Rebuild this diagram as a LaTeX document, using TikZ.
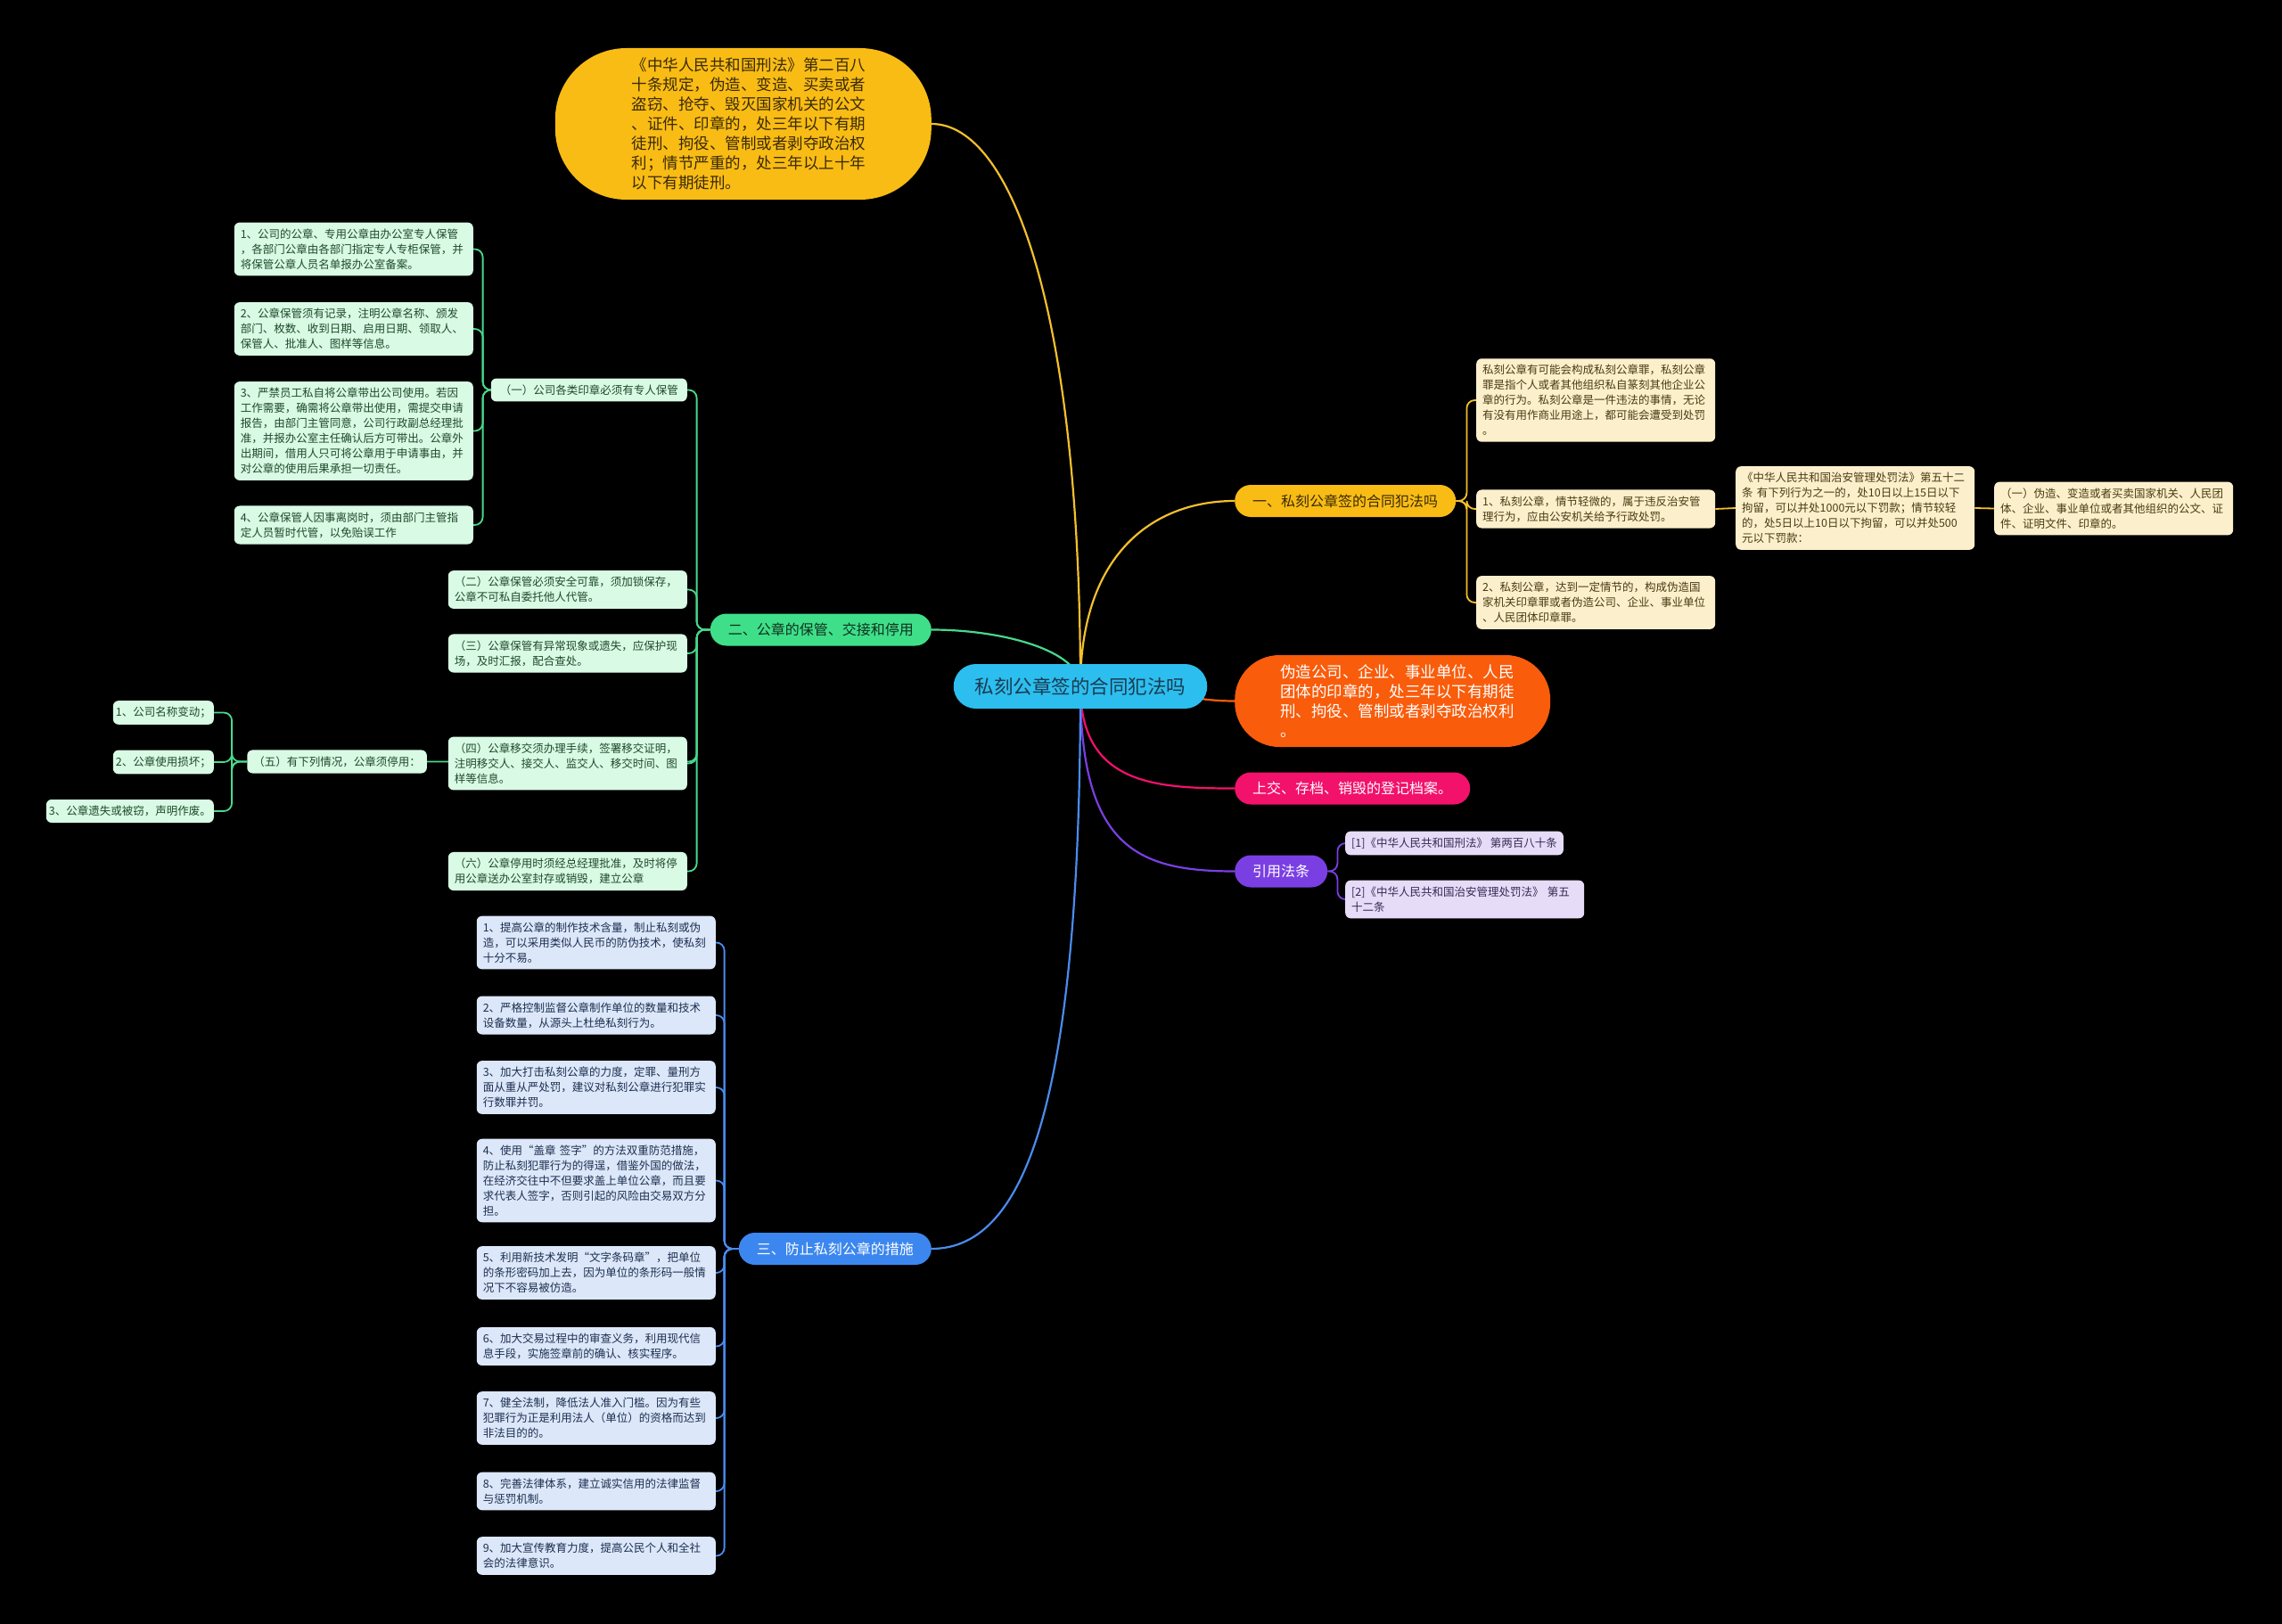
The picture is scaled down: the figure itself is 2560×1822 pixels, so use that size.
\documentclass[tikz,border=0pt]{standalone}
\usepackage{fontspec}
\setmainfont{Noto Sans CJK SC}
\usepackage{tikz}
\usetikzlibrary{backgrounds}
\definecolor{canvas}{HTML}{000000}
\definecolor{amber}{HTML}{F9BC15}
\definecolor{amberink}{HTML}{3A2A05}
\definecolor{amberline}{HTML}{F5C02C}
\definecolor{cream}{HTML}{FCF0CC}
\definecolor{creamink}{HTML}{4A3A12}
\definecolor{rootcyan}{HTML}{2CBEEF}
\definecolor{rootink}{HTML}{1B3B50}
\definecolor{flame}{HTML}{F95C0B}
\definecolor{rose}{HTML}{F2116B}
\definecolor{grape}{HTML}{7A3FE2}
\definecolor{lilac}{HTML}{E6DCF8}
\definecolor{lilacink}{HTML}{372A52}
\definecolor{leafgreen}{HTML}{3FDF8A}
\definecolor{greenink}{HTML}{10301C}
\definecolor{greenline}{HTML}{48D98C}
\definecolor{mint}{HTML}{D9FAE4}
\definecolor{mintink}{HTML}{1E4A2C}
\definecolor{skyblue}{HTML}{3C87EF}
\definecolor{blueline}{HTML}{4A8CEF}
\definecolor{ice}{HTML}{DCE7FA}
\definecolor{iceink}{HTML}{1D2F4E}
\newcommand{\leaffont}{\fontsize{12.5pt}{17pt}\selectfont}
\newcommand{\branchfont}{\fontsize{16pt}{20pt}\selectfont}
\newcommand{\bubblefont}{\fontsize{17.5pt}{22pt}\selectfont}
\newcommand{\rootfont}{\fontsize{21.5pt}{26pt}\selectfont}
\tikzset{
  link/.style={line width=2.2pt},
  fan/.style={line width=1.8pt,rounded corners=9pt},
  leaf/.style={rounded corners=6pt,inner xsep=7pt,inner ysep=7pt,font=\leaffont,align=left},
  wideleaf/.style={leaf,text width=254pt},
  pill/.style={rounded corners=18pt,inner xsep=20pt,minimum height=36pt,font=\branchfont}
}

\begin{document}
\begin{tikzpicture}[x=1pt,y=-1pt]
% root
\node[fill=rootcyan,text=rootink,font=\rootfont,rounded corners=25pt,inner xsep=24pt,minimum height=50pt] (root) at (1212,770) {私刻公章签的合同犯法吗};

% top bubble
\node[fill=amber,text=amberink,font=\bubblefont,text width=250pt,align=left,inner xsep=86pt,minimum height=170pt,rounded corners=80pt,anchor=east] (penal) at (1045,139) {《中华人民共和国刑法》第二百八\\十条规定，伪造、变造、买卖或者\\盗窃、抢夺、毁灭国家机关的公文\\、证件、印章的，处三年以下有期\\徒刑、拘役、管制或者剥夺政治权\\利；情节严重的，处三年以上十年\\以下有期徒刑。};

% branch one
\node[pill,fill=amber,text=amberink,anchor=west] (crime) at (1385,562) {一、私刻公章签的合同犯法吗};
\node[wideleaf,fill=cream,text=creamink,anchor=west] (crimea) at (1656,449) {私刻公章有可能会构成私刻公章罪，私刻公章\\罪是指个人或者其他组织私自篆刻其他企业公\\章的行为。私刻公章是一件违法的事情，无论\\有没有用作商业用途上，都可能会遭受到处罚\\。};
\node[wideleaf,fill=cream,text=creamink,anchor=west] (crimeb) at (1656,571) {1、私刻公章，情节轻微的，属于违反治安管\\理行为，应由公安机关给予行政处罚。};
\node[wideleaf,fill=cream,text=creamink,anchor=west] (crimec) at (1656,676) {2、私刻公章，达到一定情节的，构成伪造国\\家机关印章罪或者伪造公司、企业、事业单位\\、人民团体印章罪。};
\node[wideleaf,fill=cream,text=creamink,anchor=west] (police) at (1947,570) {《中华人民共和国治安管理处罚法》第五十二\\条 有下列行为之一的，处10日以上15日以下\\拘留，可以并处1000元以下罚款；情节较轻\\的，处5日以上10日以下拘留，可以并处500\\元以下罚款：};
\node[wideleaf,fill=cream,text=creamink,anchor=west] (policea) at (2237,570.5) {（一）伪造、变造或者买卖国家机关、人民团\\体、企业、事业单位或者其他组织的公文、证\\件、证明文件、印章的。};

% orange, pink, purple
\node[fill=flame,text=white,font=\bubblefont,text width=252pt,align=left,inner xsep=51pt,minimum height=103pt,rounded corners=50pt,anchor=west] (forge) at (1385,786.5) {伪造公司、企业、事业单位、人民\\团体的印章的，处三年以下有期徒\\刑、拘役、管制或者剥夺政治权利\\。};
\node[pill,fill=rose,text=white,anchor=west] (archive) at (1385,884.5) {上交、存档、销毁的登记档案。};
\node[pill,fill=grape,text=white,anchor=west] (cite) at (1385,977.5) {引用法条};
\node[leaf,fill=lilac,text=lilacink,anchor=west] (citea) at (1509,946) {[1]《中华人民共和国刑法》 第两百八十条};
\node[wideleaf,fill=lilac,text=lilacink,anchor=west] (citeb) at (1509,1009) {[2]《中华人民共和国治安管理处罚法》 第五\\十二条};

% branch two
\node[pill,fill=leafgreen,text=greenink,anchor=east] (keep) at (1045,706.5) {二、公章的保管、交接和停用};
\node[leaf,fill=mint,text=mintink,anchor=east,inner xsep=10pt] (keepa) at (771,437.5) {（一）公司各类印章必须有专人保管};
\node[wideleaf,fill=mint,text=mintink,anchor=east] (keepaa) at (531,279.5) {1、公司的公章、专用公章由办公室专人保管\\，各部门公章由各部门指定专人专柜保管，并\\将保管公章人员名单报办公室备案。};
\node[wideleaf,fill=mint,text=mintink,anchor=east] (keepab) at (531,369) {2、公章保管须有记录，注明公章名称、颁发\\部门、枚数、收到日期、启用日期、领取人、\\保管人、批准人、图样等信息。};
\node[wideleaf,fill=mint,text=mintink,anchor=east] (keepac) at (531,483.5) {3、严禁员工私自将公章带出公司使用。若因\\工作需要，确需将公章带出使用，需提交申请\\报告，由部门主管同意，公司行政副总经理批\\准，并报办公室主任确认后方可带出。公章外\\出期间，借用人只可将公章用于申请事由，并\\对公章的使用后果承担一切责任。};
\node[wideleaf,fill=mint,text=mintink,anchor=east] (keepad) at (531,589) {4、公章保管人因事离岗时，须由部门主管指\\定人员暂时代管，以免贻误工作};
\node[wideleaf,fill=mint,text=mintink,anchor=east] (keepb) at (771,661.5) {（二）公章保管必须安全可靠，须加锁保存，\\公章不可私自委托他人代管。};
\node[wideleaf,fill=mint,text=mintink,anchor=east] (keepc) at (771,733) {（三）公章保管有异常现象或遗失，应保护现\\场，及时汇报，配合查处。};
\node[wideleaf,fill=mint,text=mintink,anchor=east] (keepd) at (771,856.5) {（四）公章移交须办理手续，签署移交证明，\\注明移交人、接交人、监交人、移交时间、图\\样等信息。};
\node[leaf,fill=mint,text=mintink,anchor=east] (keepe) at (479,854.5) {（五）有下列情况，公章须停用：};
\node[leaf,fill=mint,text=mintink,anchor=east,inner xsep=3pt] (keepea) at (240,799.5) {1、公司名称变动；};
\node[leaf,fill=mint,text=mintink,anchor=east,inner xsep=3pt] (keepeb) at (240,855) {2、公章使用损坏；};
\node[leaf,fill=mint,text=mintink,anchor=east,inner xsep=3pt] (keepec) at (240,910) {3、公章遗失或被窃，声明作废。};
\node[wideleaf,fill=mint,text=mintink,anchor=east] (keepf) at (771,977.5) {（六）公章停用时须经总经理批准，及时将停\\用公章送办公室封存或销毁，建立公章};

% branch three
\node[pill,fill=skyblue,text=white,anchor=east] (guard) at (1045,1401) {三、防止私刻公章的措施};
\node[wideleaf,fill=ice,text=iceink,anchor=east] (guarda) at (803,1057.5) {1、提高公章的制作技术含量，制止私刻或伪\\造，可以采用类似人民币的防伪技术，使私刻\\十分不易。};
\node[wideleaf,fill=ice,text=iceink,anchor=east] (guardb) at (803,1139) {2、严格控制监督公章制作单位的数量和技术\\设备数量，从源头上杜绝私刻行为。};
\node[wideleaf,fill=ice,text=iceink,anchor=east] (guardc) at (803,1220) {3、加大打击私刻公章的力度，定罪、量刑方\\面从重从严处罚，建议对私刻公章进行犯罪实\\行数罪并罚。};
\node[wideleaf,fill=ice,text=iceink,anchor=east] (guardd) at (803,1324.5) {4、使用“盖章 签字”的方法双重防范措施，\\防止私刻犯罪行为的得逞，借鉴外国的做法，\\在经济交往中不但要求盖上单位公章，而且要\\求代表人签字，否则引起的风险由交易双方分\\担。};
\node[wideleaf,fill=ice,text=iceink,anchor=east] (guarde) at (803,1428) {5、利用新技术发明“文字条码章”，把单位\\的条形密码加上去，因为单位的条形码一般情\\况下不容易被仿造。};
\node[wideleaf,fill=ice,text=iceink,anchor=east] (guardf) at (803,1510.5) {6、加大交易过程中的审查义务，利用现代信\\息手段，实施签章前的确认、核实程序。};
\node[wideleaf,fill=ice,text=iceink,anchor=east] (guardg) at (803,1591) {7、健全法制，降低法人准入门槛。因为有些\\犯罪行为正是利用法人（单位）的资格而达到\\非法目的的。};
\node[wideleaf,fill=ice,text=iceink,anchor=east] (guardh) at (803,1673) {8、完善法律体系，建立诚实信用的法律监督\\与惩罚机制。};
\node[wideleaf,fill=ice,text=iceink,anchor=east] (guardi) at (803,1745.5) {9、加大宣传教育力度，提高公民个人和全社\\会的法律意识。};

\begin{scope}[on background layer]
\fill[canvas] (0,0) rectangle (2560,1822);
% root links
\draw[link,amberline] (root.center) .. controls +(0,-420) and +(90,0) .. (penal.east);
\draw[link,amberline] (root.center) .. controls +(0,-150) and +(-90,0) .. (crime.west);
\draw[link,flame] (root.center) .. controls +(100,0) and +(-60,0) .. (forge.west);
\draw[link,rose] (root.center) .. controls +(0,110) and +(-90,0) .. (archive.west);
\draw[link,grape] (root.center) .. controls +(0,180) and +(-110,0) .. (cite.west);
\draw[link,greenline] (root.center) .. controls +(0,-40) and +(80,0) .. (keep.east);
\draw[link,blueline] (root.center) .. controls +(0,450) and +(110,0) .. (guard.east);
% fans
\foreach \c in {crimea,crimeb,crimec}
  \draw[fan,amberline] (crime.east) -- ++(12,0) |- (\c.west);
\draw[fan,amberline] (crimeb.east) -- (police.west);
\draw[fan,amberline] (police.east) -- (policea.west);
\foreach \c in {citea,citeb}
  \draw[fan,grape] (cite.east) -- ++(11,0) |- (\c.west);
\foreach \c in {keepa,keepb,keepc,keepd,keepe,keepf}
  \draw[fan,greenline] (keep.west) -- ++(-15,0) |- (\c.east);
\foreach \c in {keepaa,keepab,keepac,keepad}
  \draw[fan,greenline] (keepa.west) -- ++(-9,0) |- (\c.east);
\foreach \c in {keepea,keepeb,keepec}
  \draw[fan,greenline] (keepe.west) -- ++(-17,0) |- (\c.east);
\foreach \c in {guarda,guardb,guardc,guardd,guarde,guardf,guardg,guardh,guardi}
  \draw[fan,blueline] (guard.west) -- ++(-16,0) |- (\c.east);
\end{scope}
\end{tikzpicture}
\end{document}
